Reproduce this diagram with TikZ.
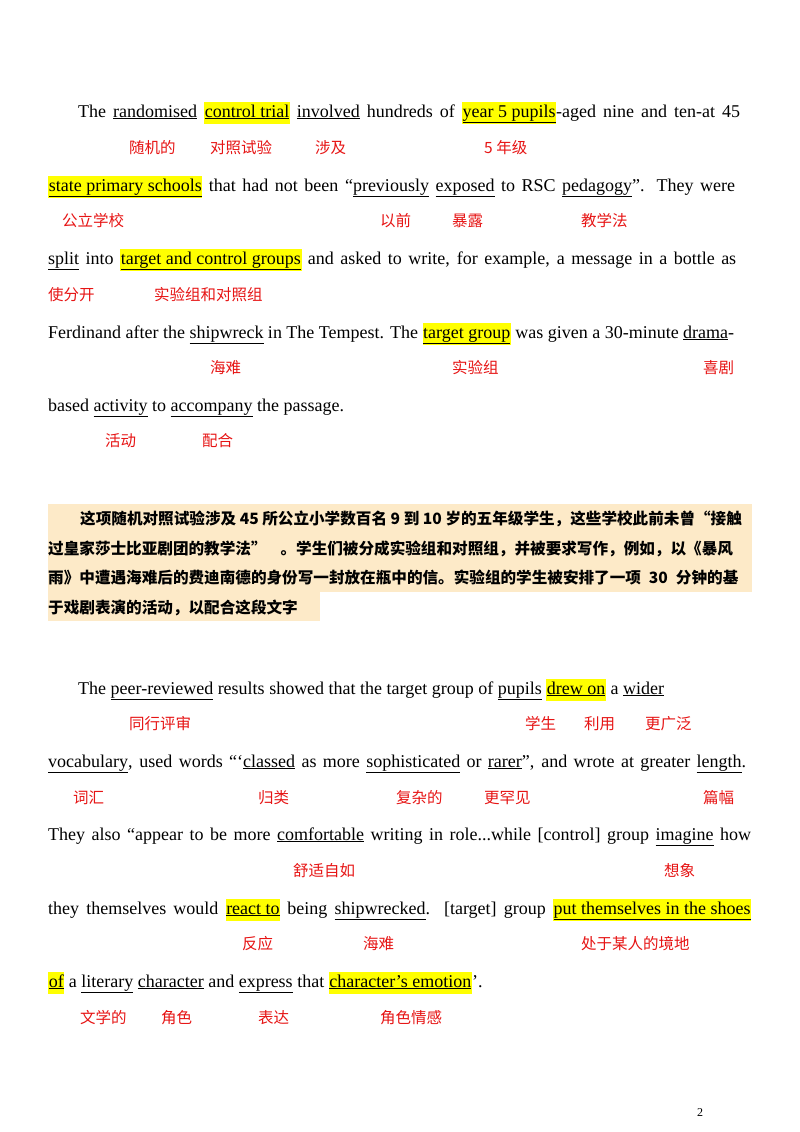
\documentclass[tikz,border=0pt]{standalone}
\usepackage{fontspec}
\setmainfont{Liberation Serif}
\newfontfamily\cjk{Noto Sans CJK SC}
\definecolor{hlY}{RGB}{255,255,0}
\definecolor{peach}{RGB}{253,234,200}
\definecolor{redlab}{RGB}{230,20,20}
\newcommand\myul[1]{\underline{#1}}
\newcommand\myhl[1]{{\setlength\fboxsep{0.6pt}\colorbox{hlY}{\strut\underline{#1}}}}
\tikzset{
 txt/.style={anchor=base west,inner sep=0pt,font=\fontsize{18}{21}\selectfont},
 lab/.style={anchor=base west,inner sep=0pt,text=redlab,font=\cjk\fontsize{15.5}{17}\selectfont},
 zh/.style={anchor=base west,inner sep=0pt,font=\cjk\bfseries\fontsize{15.6}{18}\selectfont},
}
\begin{document}
\begin{tikzpicture}[x=1pt,y=-1pt]
\useasboundingbox (0,0) rectangle (800,1132);
% paragraph 1
\node[txt] (a1) at (78,117) {\makebox[662pt][s]{The \myul{randomised} \myhl{control trial} \myul{involved} hundreds of \myhl{year 5 pupils}-aged nine and ten-at 45}};
\node[txt] (a2) at (48,191) {\makebox[687pt][s]{\myhl{state primary schools} that had not been “\myul{previously} \myul{exposed} to RSC \myul{pedagogy}”. They were}};
\node[txt] (a3) at (48,264) {\makebox[688pt][s]{\myul{split} into \myhl{target and control groups} and asked to write, for example, a message in a bottle as}};
\node[txt] (a4) at (48,338) {\makebox[686pt][s]{Ferdinand after the \myul{shipwreck} in The Tempest. The \myhl{target group} was given a 30-minute \myul{drama}-}};
\node[txt] (a5) at (48,411) {based \myul{activity} to \myul{accompany} the passage.};
\node[lab] at (129,153) {随机的};
\node[lab] at (210,153) {对照试验};
\node[lab] at (315,153) {涉及};
\node[lab] at (484,153) {5 年级};
\node[lab] at (62,226) {公立学校};
\node[lab] at (380,226) {以前};
\node[lab] at (452,226) {暴露};
\node[lab] at (581,226) {教学法};
\node[lab] at (48,300) {使分开};
\node[lab] at (154,300) {实验组和对照组};
\node[lab] at (210,373) {海难};
\node[lab] at (452,373) {实验组};
\node[lab] at (703,373) {喜剧};
\node[lab] at (105,446) {活动};
\node[lab] at (202,446) {配合};
% chinese paragraph
\fill[peach] (48,504) rectangle (752,592);
\fill[peach] (48,592) rectangle (320,621);
\node[zh] at (80,524) {这项随机对照试验涉及 45 所公立小学数百名 9 到 10 岁的五年级学生，这些学校此前未曾“接触};
\node[zh] at (48,554) {过皇家莎士比亚剧团的教学法”\hspace{14pt}。学生们被分成实验组和对照组，并被要求写作，例如，以《暴风};
\node[zh] at (48,583) {雨》中遭遇海难后的费迪南德的身份写一封放在瓶中的信。实验组的学生被安排了一项\hspace{8pt}30\hspace{8pt}分钟的基};
\node[zh] at (48,613) {于戏剧表演的活动，以配合这段文字};
% paragraph 2
\node[txt] (b1) at (78,694) {The \myul{peer-reviewed} results showed that the target group of \myul{pupils} \myhl{drew on} a \myul{wider}};
\node[txt] (b2) at (48,767) {\makebox[698pt][s]{\myul{vocabulary}, used words “‘\myul{classed} as more \myul{sophisticated} or \myul{rarer}”, and wrote at greater \myul{length}.}};
\node[txt] (b3) at (48,840) {\makebox[703pt][s]{They also “appear to be more \myul{comfortable} writing in role...while [control] group \myul{imagine} how}};
\node[txt] (b4) at (48,914) {\makebox[703pt][s]{they themselves would \myhl{react to} being \myul{shipwrecked}. [target] group \myhl{put themselves in the shoes}}};
\node[txt] (b5) at (48,987) {\myhl{of} a \myul{literary} \myul{character} and \myul{express} that \myhl{character's emotion}’.};
\node[lab] at (129,729) {同行评审};
\node[lab] at (525,729) {学生};
\node[lab] at (584,729) {利用};
\node[lab] at (645,729) {更广泛};
\node[lab] at (73,803) {词汇};
\node[lab] at (258,803) {归类};
\node[lab] at (396,803) {复杂的};
\node[lab] at (484,803) {更罕见};
\node[lab] at (703,803) {篇幅};
\node[lab] at (293,876) {舒适自如};
\node[lab] at (664,876) {想象};
\node[lab] at (242,949) {反应};
\node[lab] at (363,949) {海难};
\node[lab] at (581,949) {处于某人的境地};
\node[lab] at (80,1023) {文学的};
\node[lab] at (161,1023) {角色};
\node[lab] at (258,1023) {表达};
\node[lab] at (380,1023) {角色情感};
\node[txt,font=\fontsize{12}{14}\selectfont] (pg) at (697,1116) {2};
\end{tikzpicture}
\end{document}
